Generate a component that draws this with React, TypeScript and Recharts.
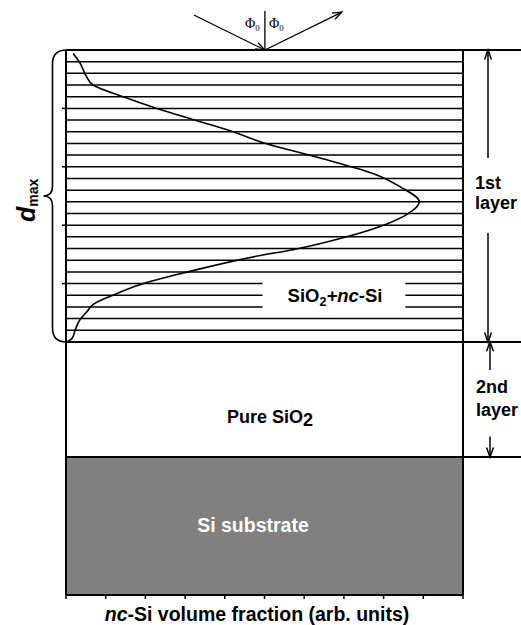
import React from "react";
import { LineChart, Line, XAxis, YAxis, ReferenceLine, ReferenceArea } from "recharts";

// depth below surface (in sub-layer units, 25 sub-layers in the 1st layer)
const depth = [0.3, 1.1, 2.3, 3.0, 4.0, 5.0, 6.05, 7.0, 7.85, 9.4, 10.7, 11.7, 13.0, 14.1, 14.9, 16.0, 17.1, 17.6, 19.1, 20.1, 21.0, 21.8, 22.4, 23.1, 24.0, 24.7, 25.0];
// nc-Si volume fraction (arb. units)
const fraction = [0.18, 0.35, 0.52, 0.68, 1.44, 2.29, 3.3, 4.21, 4.89, 6.57, 7.83, 8.41, 8.9, 8.58, 8.08, 7.07, 5.72, 4.89, 2.95, 1.86, 1.18, 0.68, 0.53, 0.35, 0.23, 0.15, 0.02];

const xTicks = [0, 1, 2, 3, 4, 5, 6, 7, 8, 9, 10];
const yTicks = [5, 10, 15, 20];

// sub-layer boundaries inside the 1st layer
const sublayers = [1, 2, 3, 4, 5, 6, 7, 8, 9, 10, 11, 12, 13, 14, 15, 16, 17, 18, 19, 23, 24];
const brokenSublayers = [20, 21, 22];
const labelGap = [4.95, 8.55];

// layer boundaries
const layer1End = 25;
const layer2End = 34.85;
const substrateEnd = 46.67;
const rightEdge = 11.47;

const profile = depth.map((d, i) => ({ depth: d, frac: fraction[i] }));

const FONT = "'Liberation Sans', Arial, Helvetica, sans-serif";

function Arrow(props: any) {
  const { x1, y1, x2, y2, stroke, strokeWidth } = props;
  const a = Math.atan2(y2 - y1, x2 - x1);
  const L = 10;
  const s = 0.35;
  const h1x = x2 - L * Math.cos(a - s);
  const h1y = y2 - L * Math.sin(a - s);
  const h2x = x2 - L * Math.cos(a + s);
  const h2y = y2 - L * Math.sin(a + s);
  return (
    <g>
      <line x1={x1} y1={y1} x2={x2} y2={y2} stroke={stroke} strokeWidth={strokeWidth} />
      <path d={`M${h1x},${h1y} L${x2},${y2} L${h2x},${h2y}`} fill="none" stroke={stroke} strokeWidth={strokeWidth} />
    </g>
  );
}

function Brace(props: any) {
  const { x1, y1, y2 } = props;
  const top = Math.min(y1, y2);
  const bot = Math.max(y1, y2);
  const mid = (top + bot) / 2;
  const xs = x1 + 14;
  const d = `M${xs},${top} Q${x1},${top} ${x1},${top + 14} L${x1},${mid - 10} Q${x1},${mid} ${x1 - 9},${mid} Q${x1},${mid} ${x1},${mid + 10} L${x1},${bot - 14} Q${x1},${bot} ${xs},${bot}`;
  return <path d={d} fill="none" stroke="#000" strokeWidth={1.6} />;
}

const noLabel = () => "";

export default function App() {
  return (
    <div style={{ position: "absolute", left: 0, top: 0, width: 521, height: 625, background: "#fff", overflow: "hidden" }}>
      <LineChart
        width={521}
        height={625}
        layout="vertical"
        data={profile}
        margin={{ top: 50, right: 58, bottom: 0, left: 0 }}
      >
        <XAxis
          type="number"
          domain={[0, 10]}
          ticks={xTicks}
          tickFormatter={noLabel}
          tickSize={4}
          height={30}
          allowDataOverflow
          axisLine={{ stroke: "#000", strokeWidth: 2 }}
          tickLine={{ stroke: "#000", strokeWidth: 1.5 }}
        />
        <YAxis
          type="number"
          dataKey="depth"
          domain={[0, substrateEnd]}
          ticks={yTicks}
          tickFormatter={noLabel}
          tickSize={4}
          width={66}
          allowDataOverflow
          axisLine={{ stroke: "#000", strokeWidth: 2 }}
          tickLine={{ stroke: "#000", strokeWidth: 1.5 }}
        />
        <ReferenceArea x1={0} x2={10} y1={layer2End} y2={substrateEnd} fill="#808080" fillOpacity={1} stroke="none" />
        {sublayers.map((d) => (
          <ReferenceLine key={d} y={d} stroke="#000" strokeWidth={1.5} />
        ))}
        {brokenSublayers.map((d) => (
          <ReferenceLine key={"a" + d} segment={[{ x: 0, y: d }, { x: labelGap[0], y: d }]} stroke="#000" strokeWidth={1.5} />
        ))}
        {brokenSublayers.map((d) => (
          <ReferenceLine key={"b" + d} segment={[{ x: labelGap[1], y: d }, { x: 10, y: d }]} stroke="#000" strokeWidth={1.5} />
        ))}
        {[0, layer1End, layer2End].map((d) => (
          <ReferenceLine key={"L" + d} segment={[{ x: 0, y: d }, { x: rightEdge, y: d }]} ifOverflow="visible" stroke="#000" strokeWidth={2} />
        ))}
        <ReferenceLine x={10} stroke="#000" strokeWidth={2} />
        {/* thickness arrows */}
        <ReferenceLine segment={[{ x: 10.63, y: 9.25 }, { x: 10.63, y: 0 }]} ifOverflow="visible" stroke="#000" strokeWidth={1.5} shape={Arrow} />
        <ReferenceLine segment={[{ x: 10.63, y: 15.67 }, { x: 10.63, y: layer1End }]} ifOverflow="visible" stroke="#000" strokeWidth={1.5} shape={Arrow} />
        <ReferenceLine segment={[{ x: 10.68, y: 27.4 }, { x: 10.68, y: layer1End }]} ifOverflow="visible" stroke="#000" strokeWidth={1.5} shape={Arrow} />
        <ReferenceLine segment={[{ x: 10.68, y: 33.1 }, { x: 10.68, y: layer2End }]} ifOverflow="visible" stroke="#000" strokeWidth={1.5} shape={Arrow} />
        {/* incident / reflected beam */}
        <ReferenceLine segment={[{ x: 5.01, y: -3.34 }, { x: 5.01, y: 0 }]} ifOverflow="visible" stroke="#000" strokeWidth={1.3} />
        <ReferenceLine segment={[{ x: 3.22, y: -3.0 }, { x: 5.01, y: 0 }]} ifOverflow="visible" stroke="#000" strokeWidth={1.3} shape={Arrow} />
        <ReferenceLine segment={[{ x: 5.01, y: 0 }, { x: 6.95, y: -3.25 }]} ifOverflow="visible" stroke="#000" strokeWidth={1.3} shape={Arrow} />
        {/* d_max brace */}
        <ReferenceLine segment={[{ x: -0.34, y: 0 }, { x: -0.34, y: layer1End }]} ifOverflow="visible" stroke="#000" shape={Brace} />
        <Line
          dataKey="frac"
          type="monotone"
          stroke="#000"
          strokeWidth={1.6}
          dot={false}
          isAnimationActive={false}
        />
      </LineChart>
      <svg
        width={521}
        height={625}
        style={{ position: "absolute", left: 0, top: 0, pointerEvents: "none" }}
        fontFamily={FONT}
      >
        <text x={245} y={28} fontFamily="'Liberation Serif', 'DejaVu Serif', serif" fontSize={14}>
          Φ<tspan fontSize={9} dy={3}>0</tspan>
        </text>
        <text x={269} y={28} fontFamily="'Liberation Serif', 'DejaVu Serif', serif" fontSize={14}>
          Φ<tspan fontSize={9} dy={3}>0</tspan>
        </text>
        <text x={475} y={189} fontSize={18} fontWeight="bold">1st</text>
        <text x={475} y={209} fontSize={18} fontWeight="bold">layer</text>
        <text x={476} y={393} fontSize={18} fontWeight="bold">2nd</text>
        <text x={476} y={416} fontSize={18} fontWeight="bold">layer</text>
        <text x={335} y={302} fontSize={18.5} fontWeight="bold" textAnchor="middle">
          SiO<tspan fontSize={12.5} dy={4}>2</tspan>
          <tspan dy={-4} fontStyle="italic">+nc</tspan>-Si
        </text>
        <text x={270} y={423} fontSize={18} fontWeight="bold" textAnchor="middle">
          Pure SiO<tspan dy={3}>2</tspan>
        </text>
        <text x={253} y={532} fontSize={19.5} fontWeight="bold" textAnchor="middle" fill="#fff">
          Si substrate
        </text>
        <text x={257} y={621} fontSize={19.5} fontWeight="bold" textAnchor="middle">
          <tspan fontStyle="italic">nc</tspan>-Si volume fraction (arb. units)
        </text>
        <text transform="translate(35,222) rotate(-90)" fontWeight="bold">
          <tspan fontSize={25} fontStyle="italic">d</tspan>
          <tspan fontSize={14} dy={3}>max</tspan>
        </text>
      </svg>
    </div>
  );
}
